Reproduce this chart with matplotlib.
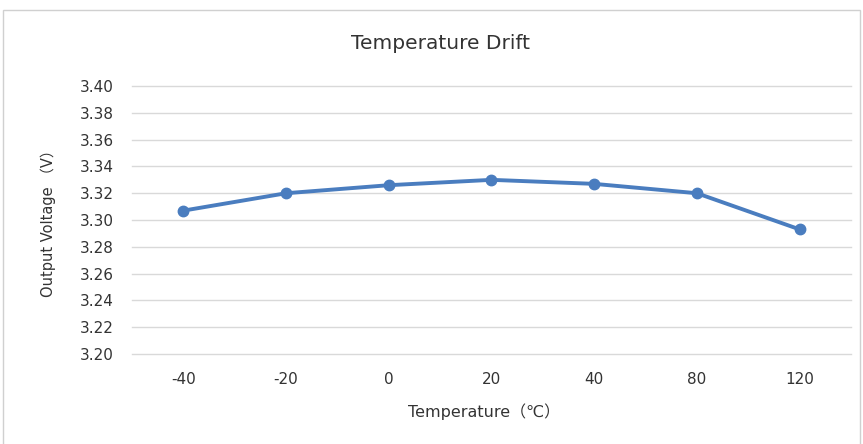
import matplotlib
matplotlib.use("Agg")
import matplotlib.pyplot as plt
from matplotlib.patches import Rectangle

plt.rcParams['font.family'] = ['DejaVu Sans', 'Noto Sans CJK SC']

# data
temperatures = ['-40', '-20', '0', '20', '40', '80', '120']
voltages = [3.307, 3.320, 3.326, 3.330, 3.327, 3.320, 3.293]
y_ticks = [3.20, 3.22, 3.24, 3.26, 3.28, 3.30, 3.32, 3.34, 3.36, 3.38, 3.40]

line_color = '#4a7dbf'
grid_color = '#d9d9d9'
text_color = '#333333'

fig = plt.figure(figsize=(8.63, 4.44), dpi=100)
ax = fig.add_axes([0.153, 0.203, 0.833, 0.603])

# outer chart frame
fig.patches.append(Rectangle((0.004, -0.01), 0.992, 0.988, transform=fig.transFigure,
                             fill=False, edgecolor='#d0d0d0', linewidth=1.0))

x = range(len(temperatures))
ax.plot(x, voltages, color=line_color, linewidth=2.8, marker='o', markersize=7.5,
        markerfacecolor=line_color, markeredgecolor=line_color, zorder=3)

ax.set_xlim(-0.5, len(temperatures) - 0.5)
ax.set_ylim(3.20, 3.40)
ax.set_xticks(list(x))
ax.set_xticklabels(temperatures)
ax.set_yticks(y_ticks)
ax.set_yticklabels([f'{v:.2f}' for v in y_ticks])

ax.grid(axis='y', color=grid_color, linewidth=1.0)
ax.set_axisbelow(True)
for gl in ax.get_ygridlines():
    gl.set_clip_on(False)
for side in ['top', 'right', 'left', 'bottom']:
    ax.spines[side].set_visible(False)
ax.tick_params(axis='both', length=0, labelsize=11, colors=text_color)
ax.tick_params(axis='x', pad=13)
ax.tick_params(axis='y', pad=13)

fig.text(0.51, 0.903, 'Temperature Drift', fontsize=14.5, color=text_color,
         ha='center', va='center')
ax.set_xlabel('Temperature（℃）', fontsize=11.5, color=text_color, va='center')
ax.xaxis.set_label_coords(0.49, -0.216)
ax.set_ylabel('Output Voltage （V）', fontsize=10.5, color=text_color, va='center')
ax.yaxis.set_label_coords(-0.117, 0.5)

fig.savefig('out.png', dpi=100)
